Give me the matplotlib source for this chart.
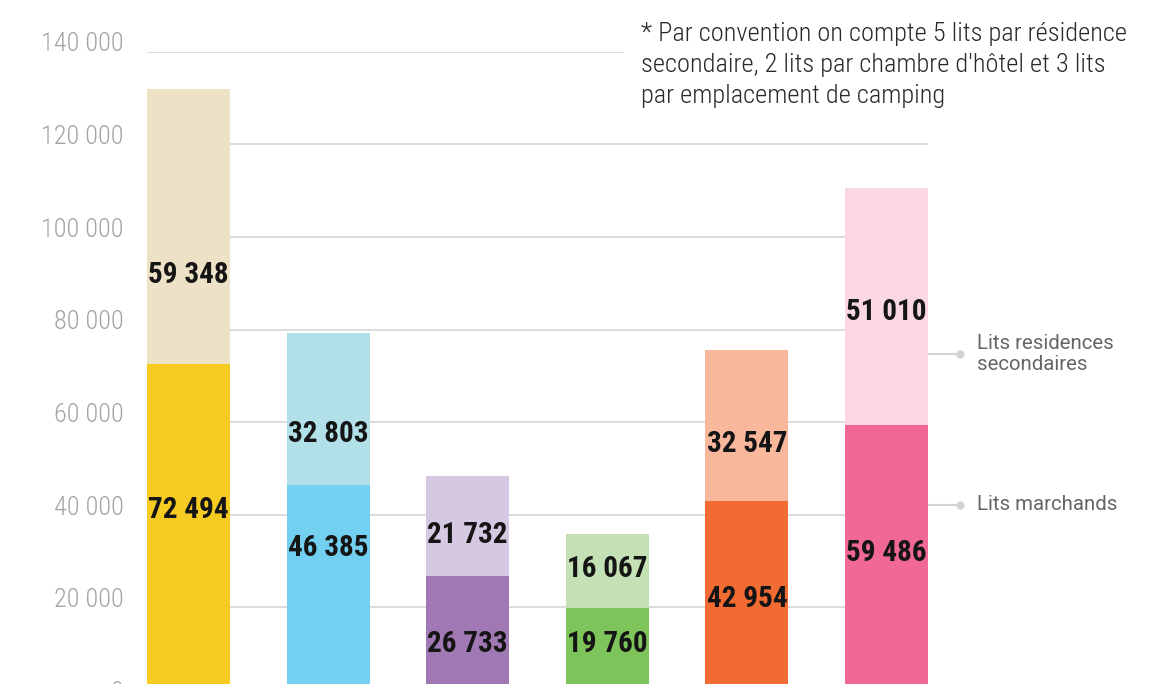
import matplotlib
matplotlib.use("Agg")
import matplotlib.pyplot as plt
from matplotlib.transforms import ScaledTranslation

# ---- data ----
categories = ["A", "B", "C", "D", "E", "F"]
lits_marchands = [72494, 46385, 26733, 19760, 42954, 59486]
lits_secondaires = [59348, 32803, 21732, 16067, 32547, 51010]
colors_marchands = ["#F6CB22", "#74D0F0", "#A079B4", "#7DC45B", "#F26B32", "#F16795"]
colors_secondaires = ["#EDE2C6", "#B1E0E9", "#D5C8E2", "#C4E1B5", "#F9B89C", "#FAD7E1"]
yticks = [0, 20000, 40000, 60000, 80000, 100000, 120000, 140000]
ytick_labels = ["0", "20 000", "40 000", "60 000", "80 000", "100 000", "120 000", "140 000"]
series_names = ["Lits marchands", "Lits residences\nsecondaires"]
note = ("* Par convention on compte 5 lits par résidence\n"
        "secondaire, 2 lits par chambre d'hôtel et 3 lits\n"
        "par emplacement de camping")

# layout: label heights (data units) for value labels
label_y_marchands = [41000, 32800, 12100, 12100, 21750, 31700]
label_y_secondaires = [91800, 57400, 35600, 28300, 55200, 83800]


def fmt(v):
    return f"{v:,}".replace(",", " ")


W, H = 1151, 684
fig = plt.figure(figsize=(W / 100, H / 100), dpi=100)
left = 147 / W
right = 928 / W
y0 = 700
y140 = 51.7
ax = fig.add_axes([left, (H - y0) / H, right - left, (y0 - y140) / H])

x = list(range(len(categories)))
width = 0.594
ax.bar(x, lits_marchands, width=width, color=colors_marchands, zorder=2)
ax.bar(x, lits_secondaires, width=width, bottom=lits_marchands,
       color=colors_secondaires, zorder=2)

for i in x:
    ax.text(i, label_y_marchands[i], fmt(lits_marchands[i]), ha="center", va="center",
            family="Roboto Condensed", weight="bold", fontsize=21, color="#151515", zorder=3)
    ax.text(i, label_y_secondaires[i], fmt(lits_secondaires[i]), ha="center", va="center",
            family="Roboto Condensed", weight="bold", fontsize=21, color="#151515", zorder=3)

ax.set_xlim(-width / 2, len(categories) - 1 + width / 2)
ax.set_ylim(0, 140000)
ax.set_yticks(yticks)
ax.set_yticklabels(ytick_labels)
ax.set_xticks([])
for s in ax.spines.values():
    s.set_visible(False)
ax.yaxis.grid(True, color="#D9D9D9", linewidth=1.3, zorder=0)
ax.set_axisbelow(True)
ax.tick_params(axis="y", length=0, pad=17, labelsize=19, labelcolor="#A3A3A3")
off = ScaledTranslation(0, 7 / 72, fig.dpi_scale_trans)
for lab in ax.get_yticklabels():
    lab.set_fontfamily("Roboto Condensed")
    lab.set_fontweight("light")
    lab.set_transform(lab.get_transform() + off)

# note (white box hides the end of the top gridline)
fig.text(641 / W, (H - 22) / H, note, ha="left", va="top", family="Roboto Condensed",
         weight="light", fontsize=19, color="#2A2A2A", linespacing=1.37,
         bbox=dict(facecolor="white", edgecolor="none", pad=12), zorder=5)

# legend with leader lines
for name, yp in zip(series_names, [505, 354]):
    yf = (H - yp) / H
    fig.add_artist(plt.Line2D([929 / W, 960 / W], [yf, yf], color="#D3D3D3", lw=1.5))
    fig.add_artist(plt.Line2D([960 / W], [yf], marker="o", markersize=5,
                              color="#D3D3D3", lw=0))
    fig.text(977 / W, yf, name, ha="left", va="center", family="Roboto",
             fontsize=14.7, color="#666666", linespacing=1.12)

fig.savefig("out.png", dpi=100)
